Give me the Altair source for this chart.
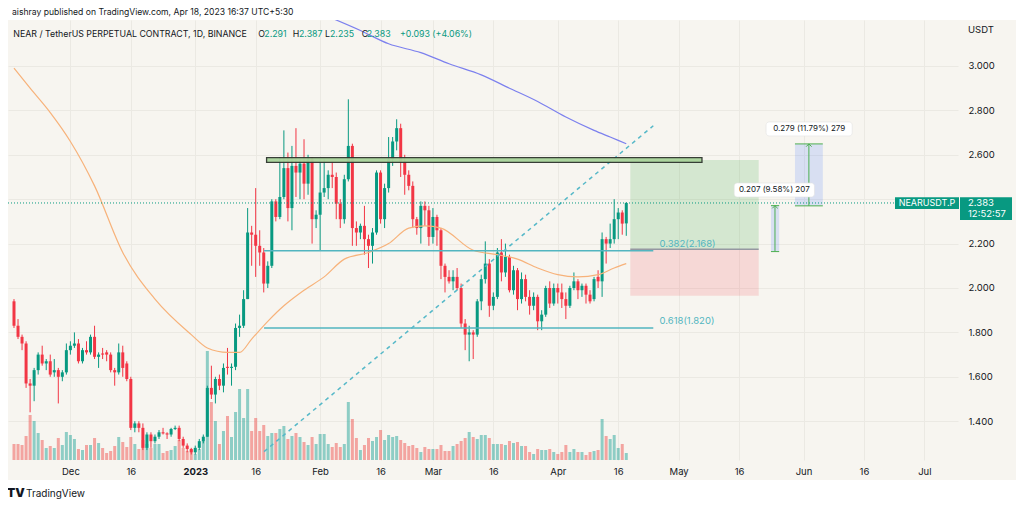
import altair as alt
import pandas as pd

# ---------------- data ----------------
start_date = "2022-11-17"

opens = [1.94,1.83,1.78,1.75,1.57,1.56,1.63,1.70,1.66,1.67,
         1.62,1.63,1.60,1.62,1.72,1.74,1.75,1.67,1.72,1.71,
         1.78,1.69,1.705,1.71,1.70,1.63,1.62,1.71,1.66,1.59,
         1.37,1.39,1.37,1.28,1.34,1.31,1.33,1.35,1.345,1.34,
         1.365,1.37,1.32,1.29,1.275,1.26,1.28,1.31,1.33,1.55,
         1.52,1.59,1.56,1.645,1.64,1.645,1.82,1.83,1.95,2.25,
         2.24,2.19,2.16,2.02,2.10,2.39,2.32,2.41,2.54,2.36,
         2.55,2.52,2.56,2.47,2.58,2.31,2.33,2.43,2.45,2.51,
         2.50,2.38,2.31,2.49,2.64,2.27,2.25,2.28,2.22,2.19,
         2.25,2.52,2.31,2.45,2.58,2.66,2.72,2.57,2.51,2.46,
         2.31,2.27,2.37,2.35,2.23,2.32,2.26,2.10,2.05,2.03,
         2.05,2.00,1.84,1.79,1.80,1.79,1.94,2.04,2.11,1.92,
         1.96,2.16,2.07,2.14,1.99,2.08,1.95,2.04,1.96,1.92,
         1.96,1.85,1.88,2.00,1.93,2.00,1.98,1.95,1.92,2.00,
         2.03,1.99,2.01,1.97,1.95,2.05,2.03,2.22,2.20,2.22,
         2.31,2.34,2.291]
highs = [1.95,1.86,1.79,1.76,1.59,1.64,1.71,1.74,1.68,1.70,
         1.68,1.64,1.63,1.75,1.76,1.80,1.77,1.73,1.76,1.79,
         1.83,1.71,1.73,1.72,1.71,1.64,1.75,1.74,1.67,1.60,
         1.40,1.40,1.39,1.35,1.35,1.34,1.36,1.37,1.35,1.37,
         1.38,1.38,1.33,1.30,1.28,1.29,1.32,1.34,1.56,1.65,
         1.60,1.61,1.66,1.73,1.66,1.84,1.88,1.99,2.36,2.28,
         2.45,2.26,2.18,2.12,2.40,2.40,2.59,2.71,2.61,2.64,
         2.72,2.58,2.67,2.60,2.59,2.35,2.58,2.58,2.53,2.57,
         2.52,2.40,2.51,2.85,2.65,2.30,2.29,2.37,2.24,2.27,
         2.53,2.53,2.47,2.68,2.68,2.76,2.74,2.60,2.53,2.48,
         2.32,2.39,2.39,2.37,2.36,2.33,2.27,2.11,2.08,2.08,
         2.09,2.02,1.86,1.83,1.81,1.95,2.06,2.21,2.13,1.98,
         2.18,2.22,2.20,2.15,2.10,2.09,2.07,2.06,1.99,1.98,
         1.97,1.90,2.01,2.03,2.02,2.02,2.02,1.98,2.01,2.07,
         2.04,2.02,2.02,1.99,2.05,2.08,2.25,2.23,2.29,2.40,
         2.36,2.35,2.387]
lows = [1.82,1.77,1.72,1.55,1.44,1.49,1.61,1.65,1.63,1.60,
        1.60,1.48,1.58,1.61,1.70,1.73,1.66,1.66,1.70,1.70,
        1.68,1.64,1.68,1.67,1.62,1.56,1.61,1.60,1.58,1.36,
        1.35,1.35,1.27,1.27,1.28,1.30,1.32,1.34,1.32,1.33,
        1.36,1.31,1.28,1.26,1.25,1.25,1.27,1.30,1.33,1.50,
        1.48,1.54,1.53,1.61,1.56,1.63,1.78,1.82,1.95,2.10,
        2.05,2.10,1.98,2.00,2.09,2.30,2.31,2.40,2.30,2.26,
        2.41,2.40,2.40,2.42,2.20,2.27,2.17,2.41,2.40,2.45,
        2.31,2.27,2.29,2.48,2.19,2.19,2.22,2.15,2.09,2.11,
        2.24,2.29,2.27,2.43,2.55,2.62,2.50,2.42,2.44,2.27,
        2.24,2.20,2.28,2.19,2.20,2.19,2.04,1.98,2.02,1.99,
        1.99,1.82,1.72,1.67,1.68,1.78,1.90,2.02,1.87,1.90,
        1.95,2.03,2.05,1.98,1.97,1.90,1.93,1.94,1.88,1.90,
        1.81,1.81,1.87,1.91,1.92,1.93,1.91,1.86,1.91,1.99,
        1.95,1.96,1.93,1.93,1.94,2.00,1.96,2.11,2.18,2.20,
        2.22,2.24,2.235]
closes = [1.83,1.78,1.75,1.57,1.56,1.63,1.70,1.66,1.67,1.61,
          1.63,1.60,1.62,1.72,1.74,1.75,1.67,1.72,1.71,1.78,
          1.69,1.70,1.70,1.70,1.63,1.62,1.71,1.64,1.59,1.37,
          1.39,1.37,1.28,1.34,1.31,1.33,1.35,1.345,1.34,1.365,
          1.37,1.32,1.29,1.275,1.26,1.28,1.31,1.33,1.55,1.52,
          1.59,1.56,1.64,1.64,1.645,1.82,1.83,1.95,2.25,2.24,
          2.19,2.16,2.02,2.10,2.39,2.32,2.41,2.54,2.36,2.55,
          2.52,2.56,2.47,2.58,2.31,2.33,2.43,2.45,2.51,2.50,
          2.38,2.31,2.49,2.64,2.27,2.25,2.28,2.22,2.19,2.25,
          2.52,2.31,2.45,2.58,2.66,2.72,2.57,2.51,2.46,2.31,
          2.27,2.37,2.35,2.23,2.32,2.26,2.10,2.05,2.03,2.05,
          2.00,1.84,1.79,1.80,1.79,1.94,2.04,2.11,1.92,1.96,
          2.16,2.07,2.14,1.99,2.08,1.95,2.04,1.96,1.92,1.96,
          1.85,1.88,2.00,1.93,2.00,1.98,1.95,1.92,2.00,2.03,
          1.99,2.01,1.97,1.94,2.04,2.03,2.22,2.20,2.22,2.31,
          2.34,2.29,2.383]
volumes = [16,16,15,24,45,39,27,20,12,14,
           12,22,15,28,25,21,11,10,15,15,
           22,17,12,7,9,14,23,18,13,23,
           16,11,20,16,12,16,16,7,9,10,
           14,20,12,9,10,6,11,19,109,58,
           39,16,29,44,23,48,71,42,71,29,
           42,29,35,24,27,27,31,34,21,24,
           27,23,18,15,23,16,26,26,16,13,
           17,13,16,58,41,22,10,15,22,19,
           23,30,20,25,23,24,20,17,14,15,
           12,8,13,11,11,11,15,9,9,14,
           16,19,22,28,23,21,25,25,22,16,
           16,16,15,19,17,18,14,14,8,6,
           11,10,10,11,8,6,8,15,8,11,
           8,8,5,8,9,10,41,24,21,25,
           12,16,7]

ma_orange_dates = ["2022-11-17","2022-11-21","2022-11-26","2022-12-01","2022-12-07","2022-12-14",
                   "2022-12-22","2022-12-31","2023-01-04","2023-01-09","2023-01-12","2023-01-15",
                   "2023-01-19","2023-01-23","2023-01-28","2023-02-02","2023-02-07","2023-02-13",
                   "2023-02-18","2023-02-23","2023-02-27","2023-03-03","2023-03-11","2023-03-17",
                   "2023-03-22","2023-03-27","2023-04-01","2023-04-06","2023-04-11","2023-04-15",
                   "2023-04-18"]
ma_orange_values = [2.99,2.90,2.79,2.66,2.46,2.16,1.95,1.79,1.73,1.71,1.71,1.77,1.85,1.92,1.99,
                    2.05,2.13,2.16,2.20,2.27,2.28,2.27,2.17,2.15,2.13,2.09,2.06,2.05,2.06,2.09,2.11]
ma_blue_dates = ["2023-02-02","2023-02-11","2023-02-18","2023-02-26","2023-03-05","2023-03-13",
                 "2023-03-20","2023-03-27","2023-04-03","2023-04-10","2023-04-14","2023-04-18"]
ma_blue_values = [3.23,3.16,3.10,3.06,3.01,2.96,2.90,2.84,2.77,2.71,2.68,2.65]

fib_names = ["0.382", "0.618"]
fib_prices = [2.168, 1.820]
fib_start = "2023-01-18T02:00:00Z"
fib_end = "2023-04-24T17:00:00Z"
fib_label_date = "2023-04-26T06:00:00Z"

trend_dates = ["2023-01-18T02:00:00Z", "2023-04-24T17:00:00Z"]
trend_prices = [1.263, 2.731]

res_dates = ["2023-01-18T17:00:00Z", "2023-05-06T19:00:00Z"]
res_prices = [2.566, 2.587]

pos_dates = ["2023-04-19T00:00:00Z", "2023-05-20T21:00:00Z"]
pos_target, pos_entry, pos_stop = 2.577, 2.174, 1.965

meas_x1 = ["2023-05-23T22:00:00Z", "2023-05-29T21:00:00Z"]
meas_x2 = ["2023-05-25T23:00:00Z", "2023-06-05T19:00:00Z"]
meas_xc = ["2023-05-24T22:00:00Z", "2023-06-02T08:00:00Z"]
meas_lo = [2.164, 2.370]
meas_hi = [2.371, 2.649]
meas_text = ["0.207 (9.58%) 207", "0.279 (11.79%) 279"]
meas_lbl_x1 = ["2023-05-14T19:00:00Z", "2023-05-22T17:00:00Z"]
meas_lbl_x2 = ["2023-06-03T17:00:00Z", "2023-06-13T02:00:00Z"]
meas_lbl_xc = ["2023-05-24T18:00:00Z", "2023-06-02T10:00:00Z"]
meas_lbl_lo = [2.410, 2.685]
meas_lbl_hi = [2.473, 2.748]
meas_lbl_y = [2.441, 2.716]

price_ticks = [1.4, 1.6, 1.8, 2.0, 2.2, 2.4, 2.6, 2.8, 3.0]
hidden_tick = 2.4  # covered by the last-price label in the reference
last_price = 2.383

header_text = "aishray published on TradingView.com, Apr 18, 2023 16:37 UTC+5:30"
legend_items = [("NEAR / TetherUS PERPETUAL CONTRACT, 1D, BINANCE", "dark", 5.3),
                ("O", "dark", 250.3), ("2.291", "green", 256.3),
                ("H", "dark", 284.7), ("2.387", "green", 291.0),
                ("L", "dark", 317.0), ("2.235", "green", 322.0),
                ("C", "dark", 353.7), ("2.383", "green", 358.7),
                ("+0.093 (+4.06%)", "green", 392.0)]

# ---------------- style ----------------
GREEN = "#089981"
RED = "#f23645"
TXT = "#131722"
GRID = "#ebe9e3"
BG = "#f7f5f0"
FIB = "#52b5c0"
FONT = "Inter"
W, H = 950, 440

dates = pd.date_range(start_date, periods=len(closes), freq="D").strftime("%Y-%m-%d")
candles = pd.DataFrame(dict(date=dates, o=opens, h=highs, l=lows, c=closes, v=volumes))


def utc(y, m, d, h=0, mi=0):
    return alt.DateTime(year=y, month=m, date=d, hours=h, minutes=mi, utc=True)


xscale = alt.Scale(type="utc", domain=[utc(2022, 11, 16, 18, 4), utc(2023, 7, 8, 2, 38)])
tick_dates = [utc(2022, 12, 1), utc(2022, 12, 16), utc(2023, 1, 1), utc(2023, 1, 16),
              utc(2023, 2, 1), utc(2023, 2, 16), utc(2023, 3, 1), utc(2023, 3, 16),
              utc(2023, 4, 1), utc(2023, 4, 16), utc(2023, 5, 1), utc(2023, 5, 16),
              utc(2023, 6, 1), utc(2023, 6, 16), utc(2023, 7, 1)]
xaxis = alt.Axis(values=tick_dates,
                 labelExpr="utcdate(datum.value) == 1 ? (utcmonth(datum.value) == 0 ? utcFormat(datum.value, '%Y') : utcFormat(datum.value, '%b')) : utcFormat(datum.value, '%d')",
                 labelFontWeight={"condition": {"test": "utcmonth(datum.value) == 0 && utcdate(datum.value) == 1", "value": "bold"}, "value": "normal"},
                 grid=True, gridColor=GRID, domain=False, ticks=False, labelPadding=6,
                 labelFontSize=9.5, labelColor=TXT, labelFont=FONT, title=None,
                 labelOverlap=False, labelFlush=False)
yscale = alt.Scale(domain=[1.2252, 3.2072], zero=False, nice=False)
yaxis = alt.Axis(orient="right", values=price_ticks,
                 labelExpr=f"abs(datum.value - {hidden_tick}) < 0.001 ? '' : format(datum.value, '.3f')",
                 grid=True, gridColor=GRID,
                 domain=False, ticks=False, labelPadding=10, labelFontSize=9.5, labelColor=TXT,
                 labelFont=FONT, title=None, labelBaseline="middle")


def X(f):
    return alt.X(f, type="temporal", scale=xscale, axis=xaxis)


def Y(f):
    return alt.Y(f, type="quantitative", scale=yscale, axis=yaxis)


up = "datum.c >= datum.o"
one = pd.DataFrame({"k": [0]})

# ---------------- layers ----------------
volume = alt.Chart(candles).mark_bar(width=3, opacity=0.5).encode(
    x=X("date"),
    y=alt.Y("v:Q", scale=alt.Scale(domain=[0, H]), axis=None),
    color=alt.condition(up, alt.value("#26a69a"), alt.value("#ef5350")),
)

layers = []
layers.append(alt.Chart(candles).mark_rule(strokeWidth=1).encode(
    x=X("date"), y=Y("l"), y2="h",
    color=alt.condition(up, alt.value(GREEN), alt.value(RED))))
layers.append(alt.Chart(candles).mark_bar(width=3).encode(
    x=X("date"), y=Y("o"), y2="c",
    color=alt.condition(up, alt.value(GREEN), alt.value(RED))))

# position tool
pos_df = pd.DataFrame({"x1": [pos_dates[0]] * 2, "x2": [pos_dates[1]] * 2,
                       "lo": [pos_entry, pos_stop], "hi": [pos_target, pos_entry],
                       "kind": ["profit", "loss"]})
layers.append(alt.Chart(pos_df).mark_rect().encode(
    x=X("x1"), x2="x2", y=Y("lo"), y2="hi",
    color=alt.Color("kind:N", scale=alt.Scale(domain=["profit", "loss"], range=["#4caf50", "#f23645"]), legend=None),
    opacity=alt.Opacity("kind:N", scale=alt.Scale(domain=["profit", "loss"], range=[0.2, 0.15]), legend=None)))
layers.append(alt.Chart(pd.DataFrame({"x1": [pos_dates[0]], "x2": [pos_dates[1]], "p": [pos_entry]}))
              .mark_rule(color="#9598a1", strokeWidth=1.5).encode(x=X("x1"), x2="x2", y=Y("p")))

# moving averages
layers.append(alt.Chart(pd.DataFrame({"d": ma_orange_dates, "p": ma_orange_values}))
              .mark_line(color="#f7b27a", strokeWidth=1.2, interpolate="monotone").encode(x=X("d"), y=Y("p")))
layers.append(alt.Chart(pd.DataFrame({"d": ma_blue_dates, "p": ma_blue_values}))
              .mark_line(color="#7c80ee", strokeWidth=1.2, interpolate="monotone", clip=True).encode(x=X("d"), y=Y("p")))

# fib levels
fib_df = pd.DataFrame({"x1": [fib_start] * 2, "x2": [fib_end] * 2, "p": fib_prices,
                       "lx": [fib_label_date] * 2,
                       "t": [f"{n}({p:.3f})" for n, p in zip(fib_names, fib_prices)]})
layers.append(alt.Chart(fib_df).mark_rule(color=FIB, strokeWidth=1.5).encode(x=X("x1"), x2="x2", y=Y("p")))
layers.append(alt.Chart(fib_df).mark_text(color=FIB, align="left", baseline="middle", dy=-7,
                                          fontSize=9.5, font=FONT).encode(x=X("lx"), y=Y("p"), text="t"))

# dashed trend line
layers.append(alt.Chart(pd.DataFrame({"d": trend_dates, "p": trend_prices}))
              .mark_line(color="#55b8c8", strokeWidth=1.5, strokeDash=[4, 4]).encode(x=X("d"), y=Y("p")))

# resistance rectangle
layers.append(alt.Chart(pd.DataFrame({"x1": [res_dates[0]], "x2": [res_dates[1]], "lo": [res_prices[0]], "hi": [res_prices[1]]}))
              .mark_rect(fill="#a9d49b", stroke="#2e352e", strokeWidth=1.3, opacity=0.95)
              .encode(x=X("x1"), x2="x2", y=Y("lo"), y2="hi"))

# measurement tools
meas_df = pd.DataFrame({"x1": meas_x1, "x2": meas_x2, "xc": meas_xc, "lo": meas_lo, "hi": meas_hi,
                        "t": meas_text, "lx1": meas_lbl_x1, "lx2": meas_lbl_x2, "lxc": meas_lbl_xc,
                        "llo": meas_lbl_lo, "lhi": meas_lbl_hi, "ly": meas_lbl_y})
MG = "#4caf50"
layers.append(alt.Chart(meas_df).mark_rect(color="#2962ff", opacity=0.15).encode(
    x=X("x1"), x2="x2", y=Y("lo"), y2="hi"))
layers.append(alt.Chart(meas_df).mark_rule(color=MG, strokeWidth=1).encode(x=X("xc"), y=Y("lo"), y2="hi"))
layers.append(alt.Chart(meas_df).mark_rule(color=MG, strokeWidth=1).encode(x=X("x1"), x2="x2", y=Y("lo")))
layers.append(alt.Chart(meas_df).mark_rule(color=MG, strokeWidth=1).encode(x=X("x1"), x2="x2", y=Y("hi")))
layers.append(alt.Chart(meas_df).mark_point(shape="M-1,1L0,0L1,1", filled=False, color=MG, size=30,
                                            strokeWidth=1, opacity=1).encode(x=X("xc"), y=Y("hi")))
layers.append(alt.Chart(meas_df).mark_rect(fill="white", stroke="#e3e3e3", strokeWidth=0.6, cornerRadius=3).encode(
    x=X("lx1"), x2="lx2", y=Y("llo"), y2="lhi"))
layers.append(alt.Chart(meas_df).mark_text(color=TXT, fontSize=8, font=FONT, baseline="middle").encode(
    x=X("lxc"), y=Y("ly"), text="t"))

# last price line and labels
lp = pd.DataFrame({"p": [last_price], "top": [last_price + 0.026], "bot1": [last_price - 0.027],
                   "bot2": [last_price - 0.077], "p2": [last_price - 0.05]})
layers.append(alt.Chart(lp).mark_rule(color=GREEN, strokeWidth=1, strokeDash=[1, 2]).encode(
    x=alt.value(0), x2=alt.value(W), y=Y("p")))
layers.append(alt.Chart(lp).mark_rect(color=GREEN).encode(x=alt.value(887), x2=alt.value(951), y=Y("top"), y2="bot1"))
layers.append(alt.Chart(lp).mark_rect(color=GREEN).encode(x=alt.value(952), x2=alt.value(1004), y=Y("top"), y2="bot2"))
layers.append(alt.Chart(lp).mark_text(color="white", fontSize=9, font=FONT, baseline="middle").encode(
    x=alt.value(919), y=Y("p"), text=alt.value("NEARUSDT.P")))
layers.append(alt.Chart(lp).mark_text(color="white", fontSize=9.5, font=FONT, baseline="middle", align="left").encode(
    x=alt.value(960), y=Y("p"), text=alt.value(f"{last_price:.3f}")))
layers.append(alt.Chart(lp).mark_text(color="white", fontSize=9.5, font=FONT, baseline="middle", align="left").encode(
    x=alt.value(960), y=Y("p2"), text=alt.value("12:52:57")))

# page strips and texts
layers.append(alt.Chart(one).mark_rect(color="white").encode(
    x=alt.value(0), x2=alt.value(1008), y=alt.value(-12), y2=alt.value(0)))
layers.append(alt.Chart(one).mark_rect(color="white").encode(
    x=alt.value(0), x2=alt.value(1008), y=alt.value(460), y2=alt.value(479)))
layers.append(alt.Chart(one).mark_text(color=TXT, fontSize=8.6, font=FONT, align="left", baseline="alphabetic").encode(
    x=alt.value(4), y=alt.value(-5.2), text=alt.value(header_text)))
for txt, col, px in legend_items:
    layers.append(alt.Chart(one).mark_text(color=(GREEN if col == "green" else TXT), fontSize=8.8, font=FONT,
                                           align="left", baseline="alphabetic").encode(
        x=alt.value(px), y=alt.value(16.5), text=alt.value(txt)))
layers.append(alt.Chart(one).mark_text(color=TXT, fontSize=9.5, font=FONT, align="left", baseline="alphabetic").encode(
    x=alt.value(960), y=alt.value(13.3), text=alt.value("USDT")))
layers.append(alt.Chart(one).mark_text(color=TXT, fontSize=12, font=FONT, fontWeight=900, align="left", baseline="middle").encode(
    x=alt.value(-1), y=alt.value(473), text=alt.value("TV")))
layers.append(alt.Chart(one).mark_text(color=TXT, fontSize=10, font=FONT, align="left", baseline="middle").encode(
    x=alt.value(18), y=alt.value(473.5), text=alt.value("TradingView")))

price = alt.layer(*layers)

chart = alt.layer(volume, price).resolve_scale(y="independent").properties(
    width=W, height=H,
    background=BG,
    autosize=alt.AutoSizeParams(type="none"),
    padding={"left": 0, "top": 12, "right": 58, "bottom": 39},
).configure_view(stroke=None)

chart.save("out.html", embed_options={"renderer": "svg", "actions": False})
